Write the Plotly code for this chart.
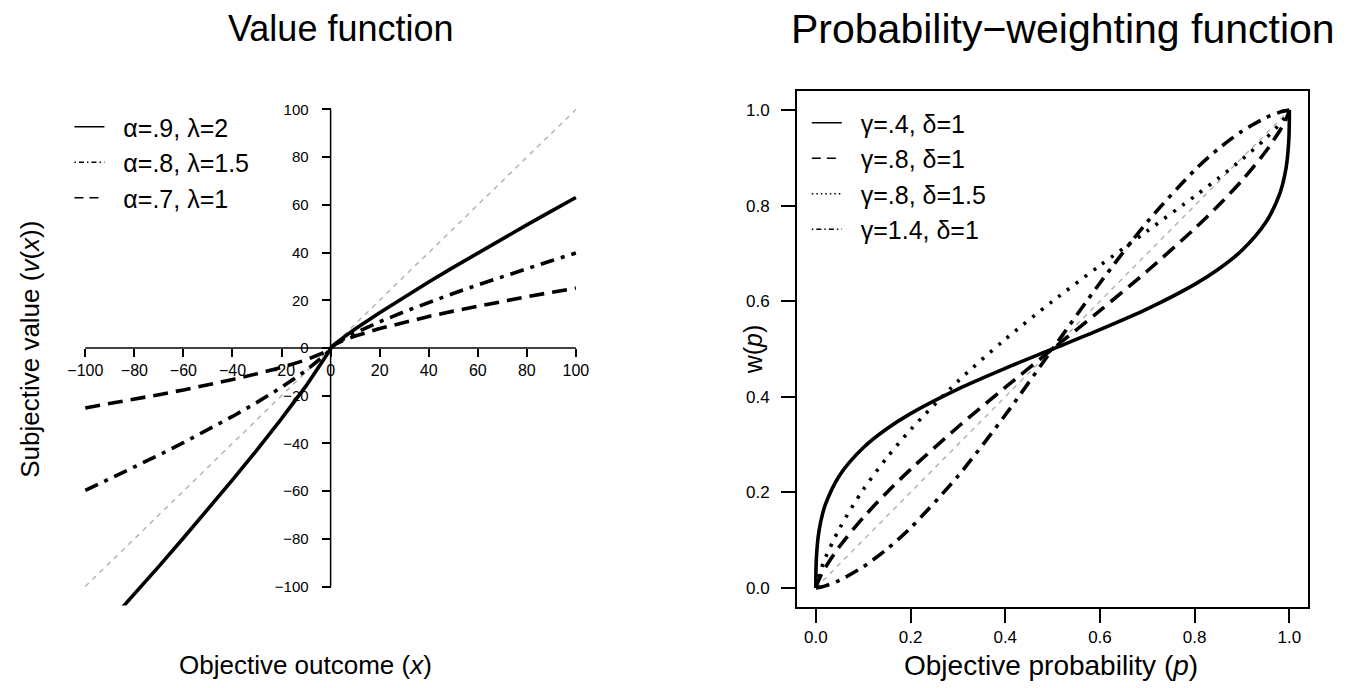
import plotly.graph_objects as go

W, H = 1346, 688

# ---------------- data: value function ----------------
vf_x = [-100, -90, -80, -70, -60, -50, -40, -30, -20, -10, -5, -2, -1, 0,
        1, 2, 5, 10, 20, 30, 40, 50, 60, 70, 80, 90, 100]
vf_a9_l2 = [-126.2, -114.78, -103.22, -91.55, -79.68, -67.62, -55.32, -42.70, -29.64,
            -15.89, -8.51, -3.73, -2.0, 0, 1.0, 1.866, 4.257, 7.943, 14.82, 21.35,
            27.66, 33.81, 39.84, 45.77, 51.61, 57.39, 63.10]
vf_a8_l15 = [-59.72, -54.89, -49.95, -44.90, -39.68, -34.31, -28.70, -22.79, -16.48,
             -9.46, -5.44, -2.61, -1.5, 0, 1.0, 1.741, 3.624, 6.310, 10.99, 15.20,
             19.13, 22.87, 26.45, 29.93, 33.30, 36.59, 39.81]
vf_a7_l1 = [-25.12, -23.33, -21.49, -19.57, -17.57, -15.46, -13.23, -10.81, -8.14,
            -5.01, -3.09, -1.62, -1.0, 0, 1.0, 1.625, 3.085, 5.012, 8.142, 10.81,
            13.23, 15.46, 17.57, 19.57, 21.49, 23.33, 25.12]
vf_diag = [-100, 100]
vf_ticks = [-100, -80, -60, -40, -20, 0, 20, 40, 60, 80, 100]
vf_names = ["α=.9, λ=2", "α=.8, λ=1.5", "α=.7, λ=1"]

# ---------------- data: probability weighting ----------------
pw_p_g4 = [0, 0.0001, 0.001, 0.005, 0.01, 0.02, 0.05, 0.1, 0.15, 0.2, 0.3, 0.4, 0.5,
           0.6, 0.7, 0.8, 0.85, 0.9, 0.95, 0.98, 0.99, 0.995, 0.999, 0.9999, 1]
pw_w_g4_d1 = [0, 0.02451, 0.05938, 0.10743, 0.13730, 0.17413, 0.23547, 0.29342, 0.33317,
              0.36482, 0.41607, 0.45953, 0.5, 0.54047, 0.58393, 0.63518, 0.66683,
              0.70658, 0.76453, 0.82587, 0.86270, 0.89257, 0.94062, 0.97549, 1]
pw_p_g8 = [0, 0.001, 0.01, 0.02, 0.05, 0.1, 0.15, 0.2, 0.3, 0.4, 0.5, 0.6, 0.7, 0.8,
           0.85, 0.9, 0.95, 0.98, 0.99, 0.999, 1]
pw_w_g8_d1 = [0, 0.00397, 0.02469, 0.04257, 0.08662, 0.14708, 0.19979, 0.24805, 0.33676,
              0.41959, 0.5, 0.58041, 0.66324, 0.75195, 0.80021, 0.85292, 0.91338,
              0.95743, 0.97531, 0.99603, 1]
pw_w_g8_d15 = [0, 0.00594, 0.03659, 0.06252, 0.12453, 0.20552, 0.27245, 0.33102, 0.43233,
               0.52026, 0.6, 0.67477, 0.74711, 0.81973, 0.85731, 0.89689, 0.94054,
               0.97121, 0.98340, 0.99735, 1]
pw_p_g14 = [0, 0.01, 0.02, 0.05, 0.1, 0.15, 0.2, 0.3, 0.4, 0.5, 0.6, 0.7, 0.8, 0.85,
            0.9, 0.95, 0.98, 0.99, 1]
pw_w_g14_d1 = [0, 0.00160, 0.00428, 0.01595, 0.04410, 0.08103, 0.12555, 0.23393, 0.36178,
               0.5, 0.63822, 0.76607, 0.87445, 0.91897, 0.95590, 0.98405, 0.99572,
               0.99840, 1]
pw_diag = [0, 1]
pw_ticks = [0.0, 0.2, 0.4, 0.6, 0.8, 1.0]
pw_ticklabels = ["0.0", "0.2", "0.4", "0.6", "0.8", "1.0"]
pw_names = ["γ=.4, δ=1", "γ=.8, δ=1", "γ=.8, δ=1.5", "γ=1.4, δ=1"]

FONT = "Liberation Sans, Arial, Helvetica, sans-serif"
LW = 3.6
DASH_LONG = "15px,8px"
DASH_DOTDASH = "14px,7px,4px,7px"
DASH_DOT = "3px,8px"
GRAY = "#b0b0b0"
NB = "\u00a0"

fig = go.Figure()

# ---- left panel ----
fig.add_trace(go.Scatter(x=vf_diag, y=vf_diag, mode="lines", xaxis="x", yaxis="y",
                         line=dict(color=GRAY, width=1.4, dash="5px,5px"),
                         showlegend=False, hoverinfo="skip"))
for yv, dash in [(vf_a9_l2, "solid"), (vf_a8_l15, DASH_DOTDASH), (vf_a7_l1, DASH_LONG)]:
    fig.add_trace(go.Scatter(x=vf_x, y=yv, mode="lines", xaxis="x", yaxis="y",
                             line=dict(color="black", width=LW, dash=dash),
                             showlegend=False, hoverinfo="skip"))
leg_dash_left = ["solid", "1.5px,3px,5px,3px", "9px,6px"]
for name, dash in zip(vf_names, leg_dash_left):
    fig.add_trace(go.Scatter(x=[None], y=[None], mode="lines", xaxis="x", yaxis="y",
                             line=dict(color="black", width=1.3, dash=dash),
                             name=NB * 2 + name, legend="legend"))

# ---- right panel ----
fig.add_trace(go.Scatter(x=pw_diag, y=pw_diag, mode="lines", xaxis="x2", yaxis="y2",
                         line=dict(color=GRAY, width=1.4, dash="5px,5px"),
                         showlegend=False, hoverinfo="skip"))
for px_, yv, dash in [(pw_p_g4, pw_w_g4_d1, "solid"), (pw_p_g8, pw_w_g8_d1, DASH_LONG),
                      (pw_p_g8, pw_w_g8_d15, DASH_DOT), (pw_p_g14, pw_w_g14_d1, DASH_DOTDASH)]:
    fig.add_trace(go.Scatter(x=px_, y=yv, mode="lines", xaxis="x2", yaxis="y2",
                             line=dict(color="black", width=LW, dash=dash, shape="spline",
                                       smoothing=0.8),
                             showlegend=False, hoverinfo="skip"))
leg_dash_right = ["solid", "9px,6px", "1.5px,3px", "1.5px,3px,5px,3px"]
for name, dash in zip(pw_names, leg_dash_right):
    fig.add_trace(go.Scatter(x=[None], y=[None], mode="lines", xaxis="x2", yaxis="y2",
                             line=dict(color="black", width=1.3, dash=dash),
                             name=NB * 2 + name, legend="legend2"))

# ---- geometry ----
lx0, lx1 = 68.1 / W, 582.9 / W
ly0, ly1 = 1 - 605.6 / H, 1 - 90.4 / H
rx0, rx1 = 796 / W, 1312 / W
ry0, ry1 = 1 - 607 / H, 1 - 91 / H

axis_common = dict(showgrid=False, zeroline=False, ticks="outside", tickwidth=1.5,
                   tickcolor="black", color="black", fixedrange=True)

fig.update_layout(
    width=W, height=H, margin=dict(l=0, r=0, t=0, b=0),
    paper_bgcolor="white", plot_bgcolor="white",
    font=dict(family=FONT, color="black"),
    xaxis=dict(domain=[lx0, lx1], range=[-104, 104], anchor="free",
               position=(ly0 + ly1) / 2, tickvals=vf_ticks, ticklen=8,
               showline=False, tickfont=dict(size=16), **axis_common),
    yaxis=dict(domain=[ly0, ly1], range=[-108, 108], anchor="free",
               position=(lx0 + lx1) / 2, tickvals=vf_ticks, ticklen=9,
               ticklabelstandoff=10,
               showline=False, tickfont=dict(size=15), **axis_common),
    xaxis2=dict(domain=[rx0, rx1], range=[-0.04, 1.04], anchor="y2",
                tickvals=pw_ticks, ticktext=pw_ticklabels, ticklen=14,
                showline=True, mirror=True, linewidth=1.5, linecolor="black",
                tickfont=dict(size=17), **axis_common),
    yaxis2=dict(domain=[ry0, ry1], range=[-0.04, 1.04], anchor="x2",
                tickvals=pw_ticks, ticktext=pw_ticklabels, ticklen=14,
                ticklabelstandoff=8,
                showline=True, mirror=True, linewidth=1.5, linecolor="black",
                tickfont=dict(size=17), **axis_common),
    legend=dict(x=62 / W, y=1 - 104 / H, xanchor="left", yanchor="top",
                font=dict(size=25), bgcolor="rgba(0,0,0,0)", borderwidth=0),
    legend2=dict(x=806 / W, y=1 - 100 / H, xanchor="left", yanchor="top",
                 font=dict(size=25), bgcolor="rgba(0,0,0,0)", borderwidth=0),
    shapes=[
        dict(type="line", xref="x", yref="y", x0=vf_ticks[0], x1=vf_ticks[-1], y0=0, y1=0,
             line=dict(color="black", width=1.5)),
        dict(type="line", xref="x", yref="y", x0=0, x1=0, y0=vf_ticks[0], y1=vf_ticks[-1],
             line=dict(color="black", width=1.5)),
    ],
    annotations=[
        dict(text="Value function", x=336 / W, y=1 - 29 / H, xref="paper", yref="paper",
             showarrow=False, font=dict(size=36), xanchor="center", yanchor="middle"),
        dict(text="Probability\u2212weighting function", x=1064 / W, y=1 - 29 / H,
             xref="paper", yref="paper", showarrow=False, font=dict(size=41),
             xanchor="center", yanchor="middle"),
        dict(text="Subjective value (<i>v</i>(<i>x</i>))", x=22 / W, y=1 - 349 / H,
             xref="paper", yref="paper", showarrow=False, font=dict(size=26), textangle=-90,
             xanchor="center", yanchor="middle"),
        dict(text="Objective outcome (<i>x</i>)", x=300 / W, y=1 - 665 / H,
             xref="paper", yref="paper", showarrow=False, font=dict(size=26),
             xanchor="center", yanchor="middle"),
        dict(text="w(<i>p</i>)", x=752 / W, y=1 - 349 / H,
             xref="paper", yref="paper", showarrow=False, font=dict(size=25), textangle=-90,
             xanchor="center", yanchor="middle"),
        dict(text="Objective probability (<i>p</i>)", x=1052 / W, y=1 - 665 / H,
             xref="paper", yref="paper", showarrow=False, font=dict(size=28),
             xanchor="center", yanchor="middle"),
    ],
)

fig.write_html("out.html")
